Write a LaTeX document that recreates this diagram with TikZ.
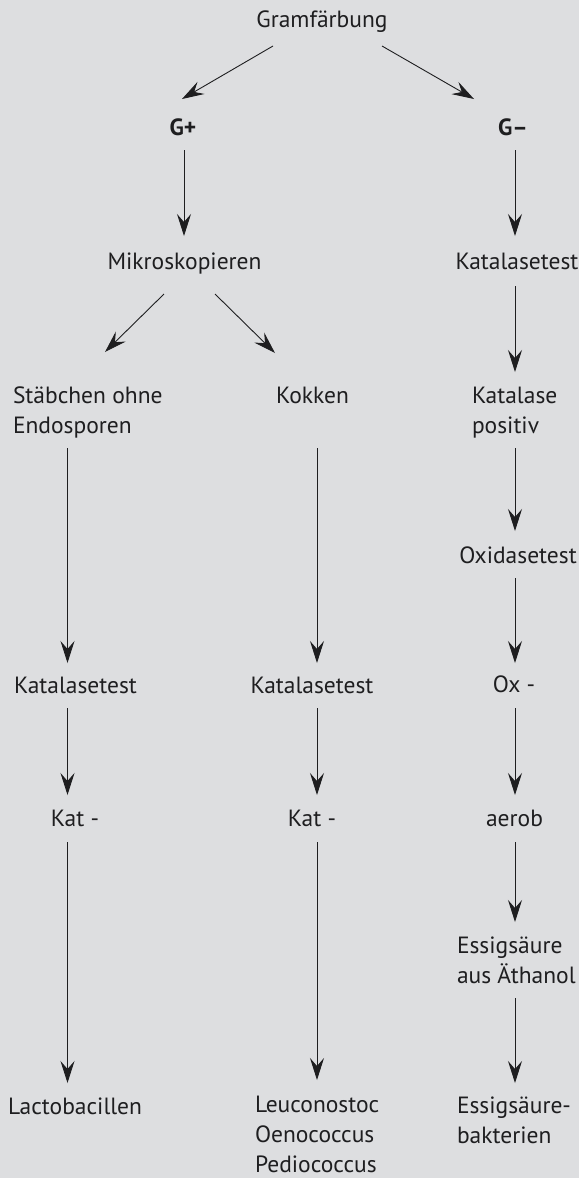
\documentclass[tikz,border=0pt]{standalone}
\usepackage{fontspec}
\setmainfont{PT Sans}
\usetikzlibrary{arrows.meta}
\definecolor{bg}{RGB}{221,222,224}
\definecolor{ink}{RGB}{30,30,32}
\begin{document}
\begin{tikzpicture}[x=1pt,y=-1pt,
  lbl/.style={inner sep=0pt, outer sep=0pt, text=ink,
    font=\fontsize{23.5}{30}\selectfont, anchor=base},
  lbll/.style={lbl, align=left, anchor=base west},
  bold/.style={font=\bfseries\fontsize{23.5}{30}\selectfont},
  arr/.style={draw=ink, line width=0.9pt,
    -{Stealth[length=22pt,width=14pt,inset=8pt]}}
]
\fill[bg] (0,0) rectangle (579,1178);
\useasboundingbox (0,0) rectangle (579,1178);

% column axes of the vertical arrows
\coordinate (cG) at (184,0);
\coordinate (cL) at (67.5,0);
\coordinate (cM) at (317,0);
\coordinate (cR) at (515,0);

% labels (placed on the baseline of their last line)
\node[lbl] (gram) at (322,27) {Gramfärbung};
\node[lbl,bold] (gp) at (183,135) {G+};
\node[lbl,bold] (gm) at (513,135) {G–};
\node[lbl] (mik) at (184.5,269) {Mikroskopieren};
\node[lbl] (katr) at (517,269) {Katalasetest};
\node[lbll] (stb) at (13,433) {Stäbchen ohne\\Endosporen};
\node[lbl] (kok) at (312.5,403) {Kokken};
\node[lbll] (kpos) at (472,433) {Katalase\\positiv};
\node[lbl] (oxt) at (518,563) {Oxidasetest};
\node[lbl] (katl) at (75.5,693) {Katalasetest};
\node[lbl] (katm) at (312,693) {Katalasetest};
\node[lbl] (ox) at (514,692) {Ox -};
\node[lbl] (kml) at (75,826) {Kat -};
\node[lbl] (kmm) at (312,826) {Kat -};
\node[lbl] (aer) at (514.5,826) {aerob};
\node[lbll] (ess) at (457,983) {Essigsäure\\aus Äthanol};
\node[lbl] (lac) at (75,1114) {Lactobacillen};
\node[lbll] (leu) at (255,1172) {Leuconostoc\\Oenococcus\\Pediococcus};
\node[lbll] (essb) at (457,1143) {Essigsäure-\\bakterien};

% diagonal branches
\draw[arr] ([shift={(-49,19)}]gram.base) -- ([shift={(-1,-36)}]gp.base);
\draw[arr] ([shift={(60,19)}]gram.base) -- ([shift={(-39,-36)}]gm.base);
\draw[arr] ([shift={(-20.5,25)}]mik.base) -- ([shift={(92,-81)}]stb.base west);
\draw[arr] ([shift={(30.5,25)}]mik.base) -- ([shift={(-37.5,-50)}]kok.base);

% vertical chains
\draw[arr] ([yshift=-15pt]gp.base -| cG) -- ([yshift=33pt]mik.base -| cG);
\draw[arr] ([yshift=-15pt]gm.base -| cR) -- ([yshift=33pt]katr.base -| cR);
\draw[arr] ([yshift=-17pt]katr.base -| cR) -- ([yshift=61pt]kpos.base -| cR);
\draw[arr] ([yshift=-15pt]kpos.base -| cR) -- ([yshift=32pt]oxt.base -| cR);
\draw[arr] ([yshift=-15pt]oxt.base -| cR) -- ([yshift=29pt]ox.base -| cR);
\draw[arr] ([yshift=-16pt]ox.base -| cR) -- ([yshift=31pt]aer.base -| cR);
\draw[arr] ([yshift=-16pt]aer.base -| cR) -- ([yshift=61pt]ess.base -| cR);
\draw[arr] ([yshift=-15pt]ess.base -| cR) -- ([yshift=60pt]essb.base -| cR);

\draw[arr] ([yshift=-15pt]stb.base -| cL) -- ([yshift=30pt]katl.base -| cL);
\draw[arr] ([yshift=-15pt]katl.base -| cL) -- ([yshift=31pt]kml.base -| cL);
\draw[arr] ([yshift=-16pt]kml.base -| cL) -- ([yshift=31pt]lac.base -| cL);

\draw[arr] ([yshift=-45pt]kok.base -| cM) -- ([yshift=30pt]katm.base -| cM);
\draw[arr] ([yshift=-15pt]katm.base -| cM) -- ([yshift=31pt]kmm.base -| cM);
\draw[arr] ([yshift=-16pt]kmm.base -| cM) -- ([yshift=92pt]leu.base -| cM);
\end{tikzpicture}
\end{document}
